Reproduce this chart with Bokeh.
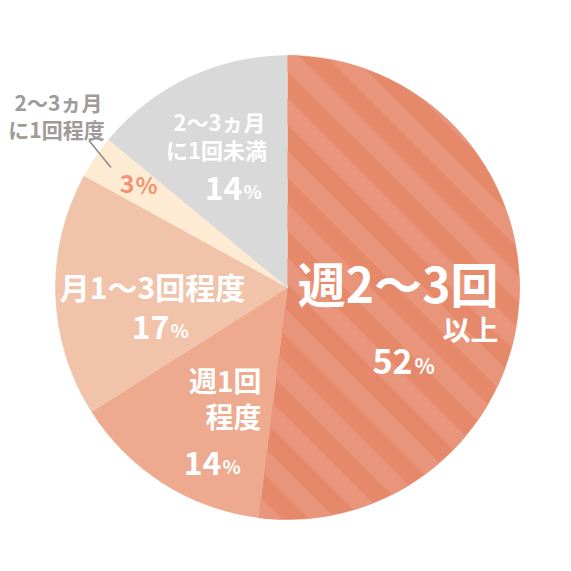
import math
from bokeh.plotting import figure
from bokeh.models import Range1d, ColumnDataSource
from bokeh.core.properties import value
from bokeh.embed import file_html
from bokeh.resources import INLINE

# ---- data ----
categories = ["週2～3回以上", "週1回程度", "月1～3回程度", "2～3ヵ月に1回程度", "2～3ヵ月に1回未満"]
values = [52, 14, 17, 3, 14]
colors = ["#E6896A", "#EEAA8F", "#F0C3AA", "#FDEBD3", "#D9D9D9"]

W = H = 555
def Y(py):
    return H - py

p = figure(width=W, height=H, output_backend="svg", toolbar_location=None,
           x_range=Range1d(0, W), y_range=Range1d(0, H), min_border=0,
           background_fill_color="white", border_fill_color="white")
p.axis.visible = False
p.grid.visible = False
p.outline_line_color = None

cx, cy, r = 287, Y(287), 232
total = sum(values)
starts, ends = [], []
cum = 0
for v in values:
    a0 = math.pi / 2 - 2 * math.pi * (cum + v) / total
    a1 = math.pi / 2 - 2 * math.pi * cum / total
    starts.append(a0)
    ends.append(a1)
    cum += v

src = ColumnDataSource(dict(start=starts, end=ends, color=colors, cat=categories, val=values))
p.wedge(x=cx, y=cy, radius=r, start_angle="start", end_angle="end",
        fill_color="color", line_color="color", line_width=0.5, source=src)

# ---- diagonal stripes on the first slice (clipped to its wedge) ----
def wedge_poly(a0, a1, n=200):
    pts = [(cx, cy)]
    for i in range(n + 1):
        a = a0 + (a1 - a0) * i / n
        pts.append((cx + r * math.cos(a), cy + r * math.sin(a)))
    return pts

def clip_half(poly, f):
    out = []
    m = len(poly)
    for i in range(m):
        P, Q = poly[i], poly[(i + 1) % m]
        fp, fq = f(P), f(Q)
        if fp >= 0:
            out.append(P)
        if (fp >= 0) != (fq >= 0):
            t = fp / (fp - fq)
            out.append((P[0] + t * (Q[0] - P[0]), P[1] + t * (Q[1] - P[1])))
    return out

period, width, phase = 53.3, 26.5, H + 110
base = wedge_poly(starts[0], ends[0])
sx, sy = [], []
for k in range(-20, 30):
    lo = phase + k * period
    hi = lo + width
    poly = clip_half(base, lambda q, lo=lo: (q[0] + q[1]) - lo)
    if len(poly) < 3:
        continue
    poly = clip_half(poly, lambda q, hi=hi: hi - (q[0] + q[1]))
    if len(poly) < 3:
        continue
    sx.append([q[0] for q in poly])
    sy.append([q[1] for q in poly])
p.patches(xs=sx, ys=sy, fill_color="#E9957B", line_color=None)

JP = value("Noto Sans CJK JP")

def txt(x, y, s, size, color="white", align="center"):
    p.text(x=[x], y=[Y(y)], text=[s], text_font=JP, text_font_style="bold",
           text_font_size=f"{size}px", text_color=color, text_align=align,
           text_baseline="middle")

# slice 1
txt(498, 281, "週2～3回", 48, align="right")
txt(498, 328, "以上", 28, align="right")
txt(412, 361, str(values[0]), 34, align="right")
txt(414, 364, "%", 21, align="left")
# slice 2
txt(261, 379, "週1回", 28, align="right")
txt(261, 415, "程度", 28, align="right")
txt(221, 462, str(values[1]), 32, align="right")
txt(222, 465, "%", 19, align="left")
# slice 3
txt(152, 285, "月1～3回程度", 30)
txt(169, 326, str(values[2]), 32, align="right")
txt(170, 329, "%", 19, align="left")
# slice 4
txt(134, 183, str(values[3]), 25, color="#EE9576", align="right")
txt(135, 183, "%", 23, color="#EE9576", align="left")
txt(58, 101, "2～3ヵ月", 21, color="#A09B96")
txt(56, 128, "に1回程度", 21, color="#A09B96")
# leader line from slice 4 mid-angle
mid = math.pi / 2 - 2 * math.pi * (sum(values[:3]) + values[3] / 2) / total
lx = cx + 0.92 * r * math.cos(mid)
ly = cy + 0.92 * r * math.sin(mid)
p.line(x=[lx, lx - 22], y=[ly, ly + 27], line_color="#8E8A86", line_width=1.5)
# slice 5
txt(219, 120, "2～3ヵ月", 22)
txt(216, 148, "に1回未満", 22)
txt(242, 187, str(values[4]), 32, align="right")
txt(243, 190, "%", 19, align="left")

open("out.html", "w").write(file_html(p, INLINE))
